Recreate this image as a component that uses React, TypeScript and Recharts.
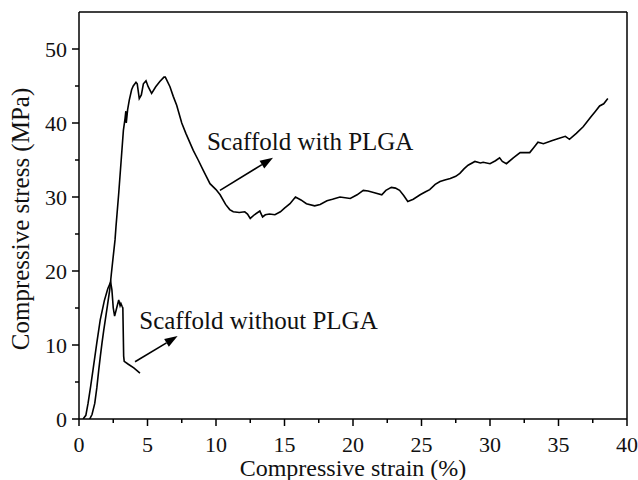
import { LineChart, Line, XAxis, YAxis, ReferenceLine, ReferenceDot } from "recharts"

// strain (%) / stress (MPa)
const withPLGA = [
  [0.78, 0], [0.95, 0.6], [1.15, 2.1], [1.3, 4.2], [1.44, 6.6], [1.56, 8.5], [1.68, 10.3], [1.8, 11.9],
  [1.92, 13.4], [2.08, 15.4], [2.24, 17.4], [2.36, 19.6], [2.5, 22.0], [2.63, 24.2], [2.7, 26.0],
  [2.9, 30.5], [3.1, 35.5], [3.24, 39.0], [3.36, 40.6], [3.42, 41.6], [3.45, 40.0], [3.55, 41.8],
  [3.67, 43.1], [3.84, 44.5], [3.96, 45.0], [4.16, 45.5], [4.25, 45.3], [4.4, 43.3], [4.55, 43.8],
  [4.7, 45.3], [4.89, 45.7], [5.05, 44.9], [5.3, 44.0], [5.6, 44.9], [5.9, 45.6], [6.2, 46.2],
  [6.3, 46.2], [6.64, 44.9], [6.88, 43.6], [7.13, 42.4], [7.5, 40.0], [7.8, 38.6], [8.34, 36.3],
  [8.7, 35.0], [9.07, 33.6], [9.32, 32.7], [9.56, 31.8], [10.0, 31.0], [10.3, 30.3], [10.7, 29.0],
  [11.0, 28.3], [11.26, 28.0], [11.7, 27.9], [12.1, 28.0], [12.3, 27.7], [12.5, 27.1], [12.8, 27.6],
  [13.2, 28.1], [13.4, 27.3], [13.6, 27.6], [13.9, 27.7], [14.3, 27.6], [14.7, 28.0], [15.0, 28.5],
  [15.4, 29.1], [15.8, 30.0], [16.2, 29.6], [16.6, 29.1], [17.2, 28.8], [17.6, 29.0], [18.1, 29.5],
  [18.5, 29.7], [19.05, 30.0], [19.8, 29.8], [20.3, 30.3], [20.75, 30.9], [21.1, 30.8], [21.5, 30.6],
  [22.1, 30.3], [22.4, 30.9], [22.8, 31.3], [23.1, 31.2], [23.4, 30.9], [23.7, 30.2], [24.0, 29.4],
  [24.4, 29.7], [24.9, 30.3], [25.3, 30.7], [25.6, 31.0], [26.0, 31.7], [26.35, 32.1], [26.7, 32.3],
  [27.1, 32.5], [27.5, 32.8], [27.8, 33.2], [28.1, 33.8], [28.4, 34.3], [28.9, 34.8], [29.3, 34.6],
  [29.5, 34.7], [30.0, 34.5], [30.4, 34.9], [30.7, 35.3], [30.9, 34.8], [31.2, 34.5], [31.7, 35.3],
  [32.2, 36.0], [32.9, 36.0], [33.2, 36.7], [33.5, 37.4], [33.9, 37.2], [34.5, 37.6], [35.0, 37.9],
  [35.5, 38.2], [35.8, 37.8], [36.3, 38.6], [36.8, 39.5], [37.1, 40.2], [37.4, 40.9], [37.7, 41.6],
  [38.0, 42.3], [38.3, 42.6], [38.6, 43.3],
].map(([x, y]) => ({ x, y }))

const withoutPLGA = [
  [0.3, 0], [0.5, 0.5], [0.66, 2.1], [0.85, 4.4], [1.02, 6.6], [1.3, 10.3], [1.55, 13.4], [1.85, 16.0],
  [2.1, 17.6], [2.31, 18.5], [2.4, 17.5], [2.5, 15.0], [2.6, 13.9], [2.75, 15.0], [2.9, 16.1],
  [3.0, 15.3], [3.06, 15.6], [3.15, 15.2], [3.2, 15.0], [3.26, 8.5], [3.3, 7.8], [3.6, 7.4],
  [4.0, 6.9], [4.45, 6.2],
].map(([x, y]) => ({ x, y }))

const xTicks = [0, 2.5, 5, 7.5, 10, 12.5, 15, 17.5, 20, 22.5, 25, 27.5, 30, 32.5, 35, 37.5, 40]
const yTicks = [0, 5, 10, 15, 20, 25, 30, 35, 40, 45, 50]

const labels = [
  { text: "Scaffold with PLGA", x: 9.34, y: 36.4 },
  { text: "Scaffold without PLGA", x: 4.4, y: 12.1 },
]
const arrows = [
  { from: { x: 10.29, y: 30.9 }, to: { x: 14.16, y: 35.3 } },
  { from: { x: 4.09, y: 7.74 }, to: { x: 7.2, y: 11.2 } },
]

const FONT = '"Liberation Serif", "Times New Roman", Times, serif'
const txt = { fontFamily: FONT, fill: "#111" }

const XTick = (props: any) => {
  const { x, y, payload } = props
  const major = payload.value % 5 === 0
  return (
    <g>
      <line x1={x} y1={y} x2={x} y2={y + (major ? 7 : 4)} stroke="#000" strokeWidth={1.5} />
      {major && (
        <text x={x} y={y + 33} textAnchor="middle" style={{ ...txt, fontSize: 22 }}>
          {payload.value}
        </text>
      )}
    </g>
  )
}

const YTick = (props: any) => {
  const { x, y, payload } = props
  const major = payload.value % 10 === 0
  return (
    <g>
      <line x1={x - (major ? 7 : 4)} y1={y} x2={x} y2={y} stroke="#000" strokeWidth={1.5} />
      {major && (
        <text x={x - 12} y={y + 7.5} textAnchor="end" style={{ ...txt, fontSize: 22 }}>
          {payload.value}
        </text>
      )}
    </g>
  )
}

const Arrow = (props: any) => {
  const { x1, y1, x2, y2 } = props
  const ang = Math.atan2(y2 - y1, x2 - x1)
  const len = 13
  const w = 4.5
  const bx = x2 - len * Math.cos(ang)
  const by = y2 - len * Math.sin(ang)
  const px = -Math.sin(ang) * w
  const py = Math.cos(ang) * w
  return (
    <g>
      <line x1={x1} y1={y1} x2={bx} y2={by} stroke="#000" strokeWidth={1.6} />
      <polygon points={`${x2},${y2} ${bx + px},${by + py} ${bx - px},${by - py}`} fill="#000" />
    </g>
  )
}

export default function App() {
  return (
    <div style={{ position: "absolute", left: 0, top: 0, background: "#fff", fontFamily: FONT }}>
      <LineChart width={638} height={480} margin={{ top: 12, right: 11, left: 0, bottom: 0 }}>
        <XAxis
          type="number"
          dataKey="x"
          domain={[0, 40]}
          ticks={xTicks}
          interval={0}
          height={61}
          tickSize={0}
          tickMargin={0}
          tickLine={false}
          tick={<XTick />}
          axisLine={{ stroke: "#000", strokeWidth: 1.5 }}
          allowDataOverflow
        />
        <YAxis
          type="number"
          domain={[0, 55]}
          ticks={yTicks}
          interval={0}
          width={79}
          tickSize={0}
          tickMargin={0}
          tickLine={false}
          tick={<YTick />}
          axisLine={{ stroke: "#000", strokeWidth: 1.5 }}
          allowDataOverflow
        />
        <ReferenceLine y={55} stroke="#000" strokeWidth={1.5} />
        <ReferenceLine x={40} stroke="#000" strokeWidth={1.5} />
        <Line data={withPLGA} dataKey="y" type="linear" stroke="#000" strokeWidth={1.6} dot={false} isAnimationActive={false} />
        <Line data={withoutPLGA} dataKey="y" type="linear" stroke="#000" strokeWidth={1.6} dot={false} isAnimationActive={false} />
        {arrows.map((a, i) => (
          <ReferenceLine key={`a${i}`} segment={[a.from, a.to]} shape={<Arrow />} ifOverflow="visible" />
        ))}
        {labels.map((l, i) => (
          <ReferenceDot
            key={`l${i}`}
            x={l.x}
            y={l.y}
            r={0}
            ifOverflow="visible"
            shape={(p: any) => (
              <text x={p.cx} y={p.cy} style={{ ...txt, fontSize: 25 }}>
                {l.text}
              </text>
            )}
          />
        ))}
        <text x={353} y={476} textAnchor="middle" style={{ ...txt, fontSize: 24 }}>
          Compressive strain (%)
        </text>
        <text x={29} y={219} transform="rotate(-90 29 219)" textAnchor="middle" style={{ ...txt, fontSize: 25 }}>
          Compressive stress (MPa)
        </text>
      </LineChart>
    </div>
  )
}
